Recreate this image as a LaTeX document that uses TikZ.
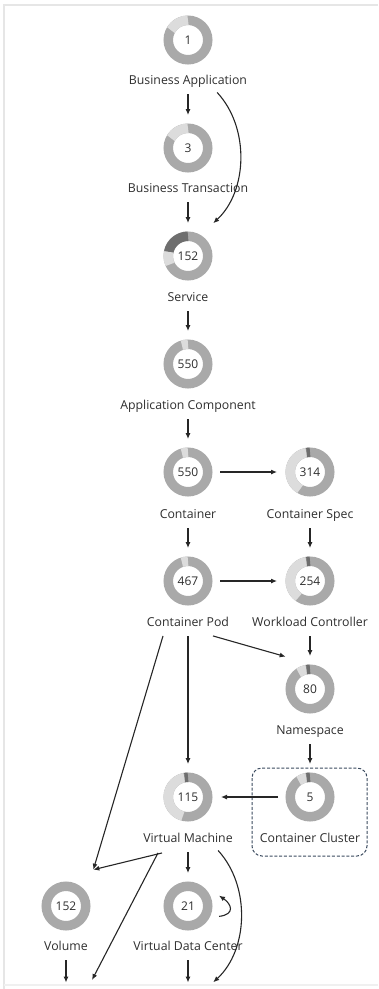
\documentclass[tikz,border=0pt]{standalone}
\usepackage{fontspec}
\setmainfont{Open Sans}
\usetikzlibrary{arrows.meta}

\definecolor{ringgray}{HTML}{A9A9A9}
\definecolor{ringlight}{HTML}{DCDCDC}
\definecolor{ringdark}{HTML}{6E6E6E}
\definecolor{txtgray}{HTML}{2E2E2E}
\definecolor{arrgray}{HTML}{262626}
\definecolor{boxblue}{HTML}{3A4A5E}
\definecolor{framegray}{HTML}{E6E6E6}

\newcommand*{\colA}{188}
\newcommand*{\colB}{310}
\newcommand*{\colC}{66}
\newcommand*{\ringr}{19.75}

% coloured part of a ring: node, start angle, end angle, colour
\newcommand*{\ringseg}[4]{\draw[#4,line width=9.5pt] (#1.center) ++(#2:\ringr) arc[start angle=#2,end angle=#3,radius=\ringr];}

\begin{document}
\begin{tikzpicture}
[
	x=1pt,y=1pt,
	donut/.style={circle,draw=ringgray,line width=9.5pt,minimum size=39.5pt,inner sep=0pt,text=txtgray,font=\fontsize{12}{14}\selectfont},
	lbl/.style={inner sep=0pt,text height=9pt,text depth=2.5pt,text=txtgray,font=\fontsize{12.3}{14}\selectfont},
	arr/.style={-{Latex[length=6pt,width=5pt]},line width=1.1pt,draw=arrgray,shorten <=7.5pt,shorten >=8.5pt},
	freearr/.style={arr,shorten <=0pt,shorten >=0pt},
	edgeline/.style={draw=framegray,line width=1.5pt},
	clbox/.style={draw=boxblue,dash pattern=on 3pt off 1.8pt,line width=1pt,rounded corners=10pt}
]

	\useasboundingbox (0,0) rectangle (378,-989);

	% frame
	\draw[edgeline] (3,-5) -- (378,-5);
	\draw[edgeline] (4,-5) -- (4,-989);
	\draw[edgeline,draw=framegray!60] (4,-985) -- (378,-985);

	% donuts
	\node[donut] (ba) at (\colA,-40) {1};
	\node[donut] (bt) at (\colA,-148) {3};
	\node[donut] (svc) at (\colA,-256) {152};
	\node[donut] (ac) at (\colA,-364) {550};
	\node[donut] (ctr) at (\colA,-472) {550};
	\node[donut] (spec) at (\colB,-472) {314};
	\node[donut] (pod) at (\colA,-581) {467};
	\node[donut] (wc) at (\colB,-581) {254};
	\node[donut] (ns) at (\colB,-689) {80};
	\node[donut] (vm) at (\colA,-797) {115};
	\node[donut] (cl) at (\colB,-797) {5};
	\node[donut] (vol) at (\colC,-906) {152};
	\node[donut] (vdc) at (\colA,-906) {21};

	\ringseg{ba}{90}{150}{ringlight}
	\ringseg{bt}{90}{150}{ringlight}
	\ringseg{svc}{90}{168}{ringdark}
	\ringseg{svc}{168}{205}{ringlight}
	\ringseg{ac}{90}{108}{ringlight}
	\ringseg{ctr}{90}{108}{ringlight}
	\ringseg{spec}{100}{240}{ringlight}
	\ringseg{spec}{90}{100}{ringdark}
	\ringseg{pod}{90}{108}{ringlight}
	\ringseg{wc}{100}{235}{ringlight}
	\ringseg{wc}{90}{100}{ringdark}
	\ringseg{ns}{100}{125}{ringlight}
	\ringseg{ns}{90}{100}{ringdark}
	\ringseg{vm}{100}{255}{ringlight}
	\ringseg{vm}{90}{100}{ringdark}
	\ringseg{cl}{100}{125}{ringlight}
	\ringseg{cl}{90}{100}{ringdark}

	% labels
	\node[lbl] (ba-l) at (\colA,-81) {Business Application};
	\node[lbl] (bt-l) at (\colA,-189) {Business Transaction};
	\node[lbl] (svc-l) at (\colA,-298) {Service};
	\node[lbl] (ac-l) at (\colA,-406) {Application Component};
	\node[lbl] (ctr-l) at (\colA,-515) {Container};
	\node[lbl] (spec-l) at (\colB,-515) {Container Spec};
	\node[lbl] (pod-l) at (\colA,-623) {Container Pod};
	\node[lbl] (wc-l) at (\colB,-623) {Workload Controller};
	\node[lbl] (ns-l) at (\colB,-731) {Namespace};
	\node[lbl] (vm-l) at (\colA,-839) {Virtual Machine};
	\node[lbl] (cl-l) at (\colB,-839) {Container Cluster};
	\node[lbl] (vol-l) at (\colC,-947) {Volume};
	\node[lbl] (vdc-l) at (\colA,-947) {Virtual Data Center};

	% cluster box
	\draw[clbox] ([shift={(-58,29)}]cl.center) rectangle ([shift={(57,-59)}]cl.center);

	% next row, out of view
	\coordinate (nx1) at (\colC,-991);
	\coordinate (nx2) at (92,-980);
	\coordinate (nx3) at (\colA,-991);
	\coordinate (nx4) at (207,-988);

	% arrows
	\draw[arr] (ba-l) -- (bt);
	\draw[arr] ([xshift=24pt]ba-l.south) to[bend left=45] ([shift={(19,2.5)}]svc.north);
	\draw[arr] (bt-l) -- (svc);
	\draw[arr] (svc-l) -- (ac);
	\draw[arr] (ac-l) -- (ctr);
	\draw[arr] (ctr) -- (spec);
	\draw[arr] (ctr-l) -- (pod);
	\draw[arr] (spec-l) -- (wc);
	\draw[arr] (pod) -- (wc);
	\draw[arr] (wc-l) -- (ns);
	\draw[freearr] ([shift={(25,-7)}]pod-l.south) -- ([shift={(-7,15)}]ns.north west);
	\draw[arr] (pod-l) -- (vm);
	\draw[freearr] ([shift={(-25,-7)}]pod-l.south) -- ([shift={(10,19)}]vol.north east);
	\draw[arr] (ns-l) -- (cl);
	\draw[arr] (cl) -- (vm);
	\draw[freearr] ([shift={(-26,-8)}]vm-l.south) -- ([shift={(10,19)}]vol.north east);
	\draw[freearr] ([shift={(-30,-8)}]vm-l.south) -- (nx2);
	\draw[arr] (vm-l) -- (vdc);
	\draw[arr] ([xshift=25pt]vm-l.south) to[bend left=45] (nx4);
	\draw[freearr] ([shift={(8,-2)}]vdc.-20) .. controls +(17,2) and +(12,-8) .. ([shift={(8,2)}]vdc.20);
	\draw[arr] (vol-l) -- (nx1);
	\draw[arr] (vdc-l) -- (nx3);

\end{tikzpicture}
\end{document}
